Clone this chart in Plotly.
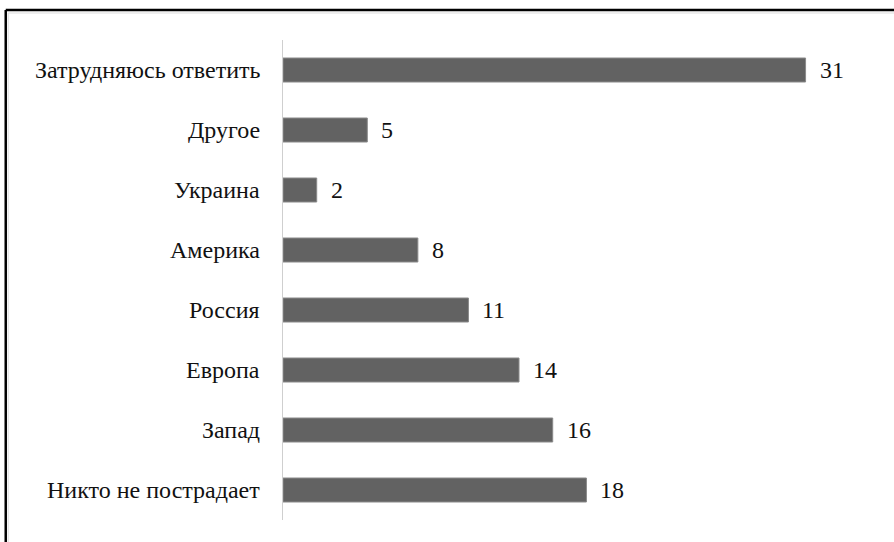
import plotly.graph_objects as go

categories = ["Никто не пострадает", "Запад", "Европа", "Россия", "Америка",
              "Украина", "Другое", "Затрудняюсь ответить"]
values = [18, 16, 14, 11, 8, 2, 5, 31]

W, H = 894, 542
L, R_, T, B = 283, 20.5, 40, 22
plot_w = W - L - R_
plot_h = H - T - B
FONT = "Liberation Serif"
FS = 24

fig = go.Figure()
fig.add_trace(go.Bar(
    y=categories, x=values, orientation="h",
    marker=dict(color="#626262", line=dict(color="#8a8a8a", width=1)),
    width=0.4, hoverinfo="skip",
))

# value labels
for c, v in zip(categories, values):
    fig.add_annotation(x=v, y=c, text=str(v), showarrow=False,
                       xanchor="left", xshift=12, yshift=0,
                       font=dict(family=FONT, size=FS, color="#111"))
# category labels
for c in categories:
    fig.add_annotation(x=0, xref="paper", y=c, text=c, showarrow=False,
                       xanchor="right", xshift=-21, yshift=0,
                       font=dict(family=FONT, size=FS, color="#111"))

# outer frame (top and left edges visible) plus faint inner line
def px(xp):
    return (xp - L) / plot_w

def py(yp):
    return 1 + (T - yp) / plot_h

fig.add_shape(type="line", xref="paper", yref="paper", x0=px(8), x1=px(W + 5),
              y0=py(13), y1=py(13), line=dict(color="#dddddd", width=1))
fig.add_shape(type="line", xref="paper", yref="paper", x0=px(8), x1=px(8),
              y0=py(13), y1=py(H + 5), line=dict(color="#dddddd", width=1))
fig.add_shape(type="line", xref="paper", yref="paper", x0=px(5.5), x1=px(W + 5),
              y0=py(10), y1=py(10), line=dict(color="black", width=2.5))
fig.add_shape(type="line", xref="paper", yref="paper", x0=px(5.5), x1=px(5.5),
              y0=py(10), y1=py(H + 5), line=dict(color="black", width=2.5))

fig.update_layout(
    width=W, height=H,
    margin=dict(l=L, r=R_, t=T, b=B),
    paper_bgcolor="white", plot_bgcolor="white",
    showlegend=False,
    bargap=0.6,
    font=dict(family=FONT, size=FS, color="#111"),
    xaxis=dict(range=[0, 35], showgrid=False, showticklabels=False,
               zeroline=False, showline=False, ticks=""),
    yaxis=dict(showgrid=False, zeroline=False, showline=True, linecolor="#cfcfcf",
               linewidth=1, ticks="", showticklabels=False,
               range=[-0.5, 7.5]),
)

fig.write_html("out.html", config={"displayModeBar": False},
               post_script="document.body.style.margin='0';document.body.style.overflow='hidden';")
